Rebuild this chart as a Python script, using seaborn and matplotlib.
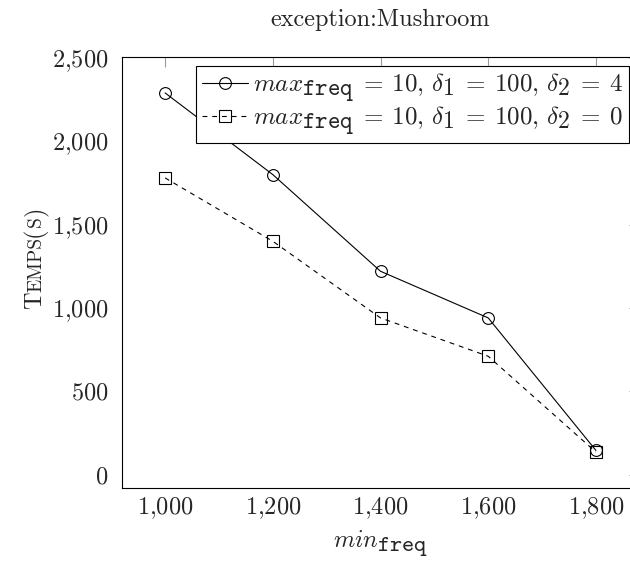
import matplotlib
matplotlib.use('Agg')
import matplotlib.pyplot as plt
import matplotlib._mathtext as mathtext_internal
import seaborn as sns
from matplotlib.ticker import FuncFormatter

# values
min_freq = [1000, 1200, 1400, 1600, 1800]
temps_d2_4 = [2290, 1800, 1220, 940, 145]
temps_d2_0 = [1780, 1400, 940, 710, 135]
y_ticks = [0, 500, 1000, 1500, 2000, 2500]

label_d2_4 = r'$max_{\mathtt{freq}} \:=\: 10,\, \delta_1 \:=\: 100,\, \delta_2 \:=\: 4$'
label_d2_0 = r'$max_{\mathtt{freq}} \:=\: 10,\, \delta_1 \:=\: 100,\, \delta_2 \:=\: 0$'
title = 'exception:Mushroom'

sns.set_style('white')
plt.rcParams['mathtext.fontset'] = 'cm'
plt.rcParams['font.family'] = ['cmr10', 'DejaVu Serif']
plt.rcParams['axes.formatter.use_mathtext'] = True
plt.rcParams['lines.scale_dashes'] = False
# subscripts in the reference are nearly full size
mathtext_internal.SHRINK_FACTOR = 0.95

FS = 17.5

fig = plt.figure(figsize=(6.3, 5.7), dpi=100)
ax = fig.add_axes([122 / 630, 82 / 570, 517 / 630, 431 / 570])

sns.lineplot(x=min_freq, y=temps_d2_4, ax=ax, color='black', linewidth=0.8,
             marker='o', markersize=8.5, markerfacecolor='none',
             markeredgecolor='black', markeredgewidth=0.8, label=label_d2_4)
sns.lineplot(x=min_freq, y=temps_d2_0, ax=ax, color='black', linewidth=0.8,
             linestyle=(0, (3.5, 3.5)), marker='s', markersize=8,
             markerfacecolor='none', markeredgecolor='black',
             markeredgewidth=0.8, label=label_d2_0)

# pgfplots style: 10% enlargement of the data range
xr = max(min_freq) - min(min_freq)
ax.set_xlim(min(min_freq) - 0.1 * xr, max(min_freq) + 0.1 * xr)
lo = min(temps_d2_4 + temps_d2_0)
hi = max(temps_d2_4 + temps_d2_0)
ax.set_ylim(lo - 0.1 * (hi - lo), hi + 0.1 * (hi - lo))

ax.set_xticks(min_freq)
ax.set_yticks(y_ticks)
fmt = FuncFormatter(lambda v, p: '$' + f'{int(v):,}'.replace(',', '{,}') + '$')
ax.xaxis.set_major_formatter(fmt)
ax.yaxis.set_major_formatter(fmt)
ax.tick_params(axis='both', which='major', direction='in', length=7,
               width=0.8, color='#9a9a9a', labelsize=FS,
               top=True, right=True)
ax.tick_params(axis='x', pad=5)
ax.tick_params(axis='y', pad=10)
for s in ax.spines.values():
    s.set_visible(True)
    s.set_color('black')
    s.set_linewidth(0.8)

ax.set_title(title, fontsize=FS, pad=22)
ax.set_xlabel(r'$min_{\mathtt{freq}}$', fontsize=FS, labelpad=6)

leg = ax.legend(loc='upper right', bbox_to_anchor=(0.98, 0.98),
                borderaxespad=0, fontsize=18, frameon=True, fancybox=False,
                framealpha=1, edgecolor='black', handlelength=1.85,
                handletextpad=0.2, labelspacing=0.05, borderpad=0.22,
                numpoints=1)
leg.get_frame().set_linewidth(0.8)

# y label in small caps: "Temps(s)"
renderer = fig.canvas.get_renderer()
pieces = [('T', FS), ('EMPS', FS * 0.8), ('(', FS), ('S', FS * 0.8), (')', FS)]
widths = []
for s, size in pieces:
    t = fig.text(0, 0, s, fontsize=size)
    widths.append(t.get_window_extent(renderer).width)
    t.remove()
y_cur = (570 - 258) - sum(widths) / 2
for (s, size), w in zip(pieces, widths):
    fig.text(41 / 630, y_cur / 570, s, fontsize=size, rotation=90,
             rotation_mode='anchor', ha='left', va='baseline')
    y_cur += w

fig.savefig('out.png', dpi=100)
